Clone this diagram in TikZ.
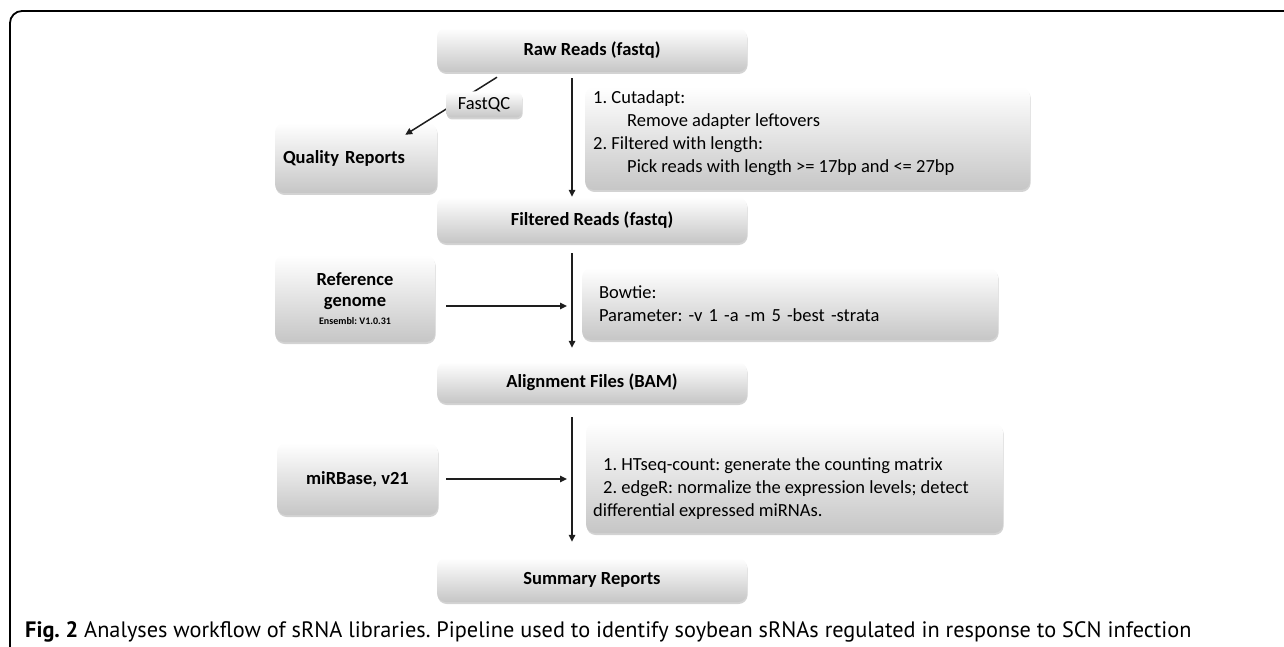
\documentclass[tikz,border=0pt]{standalone}
\usepackage{fontspec}
\setmainfont{Carlito}
\newfontfamily\capfont{PT Sans}
\usetikzlibrary{arrows.meta,shadows,calc}
\definecolor{arrcol}{HTML}{1E1E1E}
\definecolor{boxbot}{HTML}{C6C6C6}
\frenchspacing
\begin{document}
\begin{tikzpicture}[x=1pt,y=-1pt,
  box/.style={rounded corners=9pt, top color=white, bottom color=boxbot, draw=none, inner sep=0pt,
    drop shadow={shadow xshift=0.6pt, shadow yshift=-2pt, opacity=0.35}},
  title/.style={box, font=\bfseries\fontsize{18.5}{22}\selectfont, align=center},
  plain/.style={font=\fontsize{18.5}{23}\selectfont, align=left, inner sep=0pt},
  arr/.style={draw=arrcol, line width=1.5pt, -{Triangle[length=7pt,width=6.5pt]}}
]
\useasboundingbox (0,0) rectangle (1284,647);
% frame
\draw[line width=1.8pt, rounded corners=12pt] (1300,11) -- (10,11) -- (10,660);

% boxes
\node[title, minimum width=310pt, minimum height=44pt] (raw) at (592,50) {Raw Reads (fastq)};
\node[box, minimum width=162pt, minimum height=70pt, text width=146pt, align=left,
      font=\bfseries\fontsize{18.5}{22}\selectfont] (qual) at (356,158) {Quality Reports};
\node[box, minimum width=445pt, minimum height=103pt] (cut) at (807.5,138.5) {};
\node[plain, anchor=north west] (cutt) at (593,90)
  {1. Cutadapt:\\ \hspace*{34pt}Remove adapter leftovers\\ 2. Filtered with length:\\ \hspace*{34pt}Pick reads with length >= 17bp and <= 27bp};
\node[title, minimum width=310pt, minimum height=46pt] (filt) at (592,220) {Filtered Reads (fastq)};
\node[box, minimum width=160pt, minimum height=87pt, align=center,
      font=\bfseries\fontsize{18.5}{21}\selectfont] (ref) at (355,298.5)
  {Reference\\ genome\\[-3pt] {\fontsize{10}{12}\selectfont Ensembl: V1.0.31}};
\node[box, minimum width=416pt, minimum height=72pt, text width=382pt, align=left,
      font=\fontsize{18.5}{23}\selectfont] (bow) at (790,304)
  {Bowtie:\\ Parameter: -v 1 -a -m 5 -best -strata};
\node[title, minimum width=310pt, minimum height=41pt] (aln) at (592,382.5) {Alignment Files (BAM)};
\node[title, minimum width=161pt, minimum height=72pt] (mir) at (357.5,479) {miRBase, v21};
\node[box, minimum width=417pt, minimum height=110pt] (ht) at (794.5,478) {};
\node[plain, anchor=north west] (htt) at (593,457)
  {\hspace*{10pt}1. HTseq-count: generate the counting matrix\\ \hspace*{10pt}2. edgeR: normalize the expression levels; detect\\ differential expressed miRNAs.};
\node[title, minimum width=310pt, minimum height=44pt] (sum) at (592,580) {Summary Reports};

% connectors
\draw[arr] ([shift={(-95,5)}]raw.south) -- ([shift={(-32,12)}]qual.north east);
\draw[arr] ([shift={(-20,6)}]raw.south) -- ([xshift=-20pt]filt.north);
\draw[arr] ([shift={(-20,10)}]filt.south) -- ([shift={(-20,-14)}]aln.north);
\draw[arr] ([shift={(-20,14)}]aln.south) -- ([shift={(-20,-16)}]sum.north);
\coordinate (t1) at (567,306);
\coordinate (t2) at (567,479);
\draw[arr] ([shift={(11,7.5)}]ref.east) -- (t1);
\draw[arr] ([xshift=8pt]mir.east) -- (t2);

\node[box, rounded corners=6pt, minimum width=76pt, minimum height=26pt, font=\fontsize{18.5}{22}\selectfont] (fqc) at (484,104.5) {FastQC};

% caption
\node[anchor=base west, inner sep=0pt, font=\capfont\fontsize{22.3}{25}\selectfont] (cap) at (25,637)
  {\textbf{Fig. 2} Analyses workflow of sRNA libraries. Pipeline used to identify soybean sRNAs regulated in response to SCN infection};
\end{tikzpicture}
\end{document}
